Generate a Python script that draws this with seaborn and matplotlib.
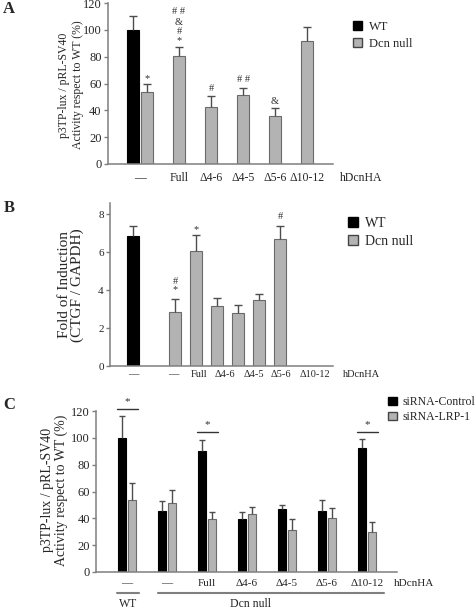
import numpy as np
import pandas as pd
import matplotlib
matplotlib.use("Agg")
import matplotlib.pyplot as plt
import seaborn as sns
from matplotlib.patches import Patch

# ---- data ----
# Panel A: p3TP-lux / pRL-SV40 reporter activity (% of WT)
a_groups = ["WT", "Dcn null", "Dcn null", "Dcn null", "Dcn null", "Dcn null", "Dcn null"]
a_values = [100, 53.8, 80.3, 42.5, 51.7, 36.0, 91.6]
a_err_top = [110.4, 59.8, 87.5, 50.8, 56.3, 42.0, 102.0]
a_labels = ["\u2014", "Full", "\u03944-6", "\u03944-5", "\u03945-6", "\u039410-12"]
a_marks = [(1, "*", 64), (2, "*", 92), (2, "#", 99), (2, "&", 105.5), (2, "# #", 113.8),
           (3, "#", 56.5), (4, "# #", 62.7), (5, "&", 46.5)]

# Panel B: CTGF / GAPDH fold of induction
b_groups = ["WT", "Dcn null", "Dcn null", "Dcn null", "Dcn null", "Dcn null", "Dcn null"]
b_values = [6.85, 2.82, 6.03, 3.17, 2.77, 3.47, 6.70]
b_err_top = [7.38, 3.52, 6.87, 3.56, 3.21, 3.77, 7.38]
b_labels = ["\u2014", "\u2014", "Full", "\u03944-6", "\u03944-5", "\u03945-6", "\u039410-12"]
b_marks = [(1, "*", 4.0), (1, "#", 4.45), (2, "*", 7.2), (6, "#", 7.88)]

# Panel C: siRNA-Control vs siRNA-LRP-1
c_conds = ["WT", "null", "Full", "d4-6", "d4-5", "d5-6", "d10-12"]
c_labels = ["\u2014", "\u2014", "Full", "\u03944-6", "\u03944-5", "\u03945-6", "\u039410-12"]
c_ctrl = [100, 45.1, 90.0, 39.4, 47.0, 45.6, 92.5]
c_ctrl_top = [116.3, 52.8, 98.2, 44.4, 50.0, 53.3, 98.9]
c_lrp = [53.8, 51.3, 39.4, 43.1, 31.0, 40.2, 29.5]
c_lrp_top = [66.2, 61.2, 44.4, 48.8, 39.4, 47.6, 37.2]
c_sig = [0, 2, 6]

GRAY = "#b3b3b3"
EDGE = "#6b6b6b"
ERR = "#4d4d4d"
SPINE = "#7f7f7f"

sns.set_style("ticks")
plt.rcParams["font.family"] = ["Liberation Serif", "DejaVu Serif"]

W, H = 477, 611
fig = plt.figure(figsize=(W / 100, H / 100), dpi=100)


def px_axes(l, t, r, b):
    return fig.add_axes([l / W, 1 - b / H, (r - l) / W, (b - t) / H])


def style_axis(ax, labelsize):
    for s in ["top", "right"]:
        ax.spines[s].set_visible(False)
    for s in ["left", "bottom"]:
        ax.spines[s].set_color(SPINE)
        ax.spines[s].set_linewidth(1.1)
    ax.tick_params(axis="y", length=3, width=1, color=SPINE, labelsize=labelsize, pad=1.5)
    ax.tick_params(axis="x", length=0, pad=6)
    ax.set_xlabel("")
    ax.set_ylabel("")


def fix_edges(ax):
    for p in ax.patches:
        fc = p.get_facecolor()
        p.set_edgecolor("black" if fc[0] < 0.2 else EDGE)
        p.set_linewidth(0.8)


def draw_err(ax, xs, vals, tops, half):
    xs = np.asarray(xs, float)
    ax.vlines(xs, vals, tops, color=ERR, lw=1)
    ax.hlines(tops, xs - half, xs + half, color=ERR, lw=1)


def legend(labels, x, y, fs, spacing):
    handles = [Patch(facecolor="black", edgecolor="black"),
               Patch(facecolor=GRAY, edgecolor="#444444")]
    fig.legend(handles, labels, loc="upper left", bbox_to_anchor=(x / W, 1 - y / H),
               frameon=False, fontsize=fs, handlelength=0.75, handleheight=0.75,
               handletextpad=0.5, labelspacing=spacing, borderpad=0, borderaxespad=0)


# ---- Panel A ----
a_pos = [0, 0.44, 1.44, 2.44, 3.44, 4.44, 5.44]
a_tick = [0.22, 1.44, 2.44, 3.44, 4.44, 5.44]
axA = px_axes(108, 3, 333, 164)
dfA = pd.DataFrame({"pos": a_pos, "value": a_values, "group": a_groups})
sns.barplot(data=dfA, x="pos", y="value", hue="group", native_scale=True, dodge=False,
            width=0.375 / 0.44, palette={"WT": "black", "Dcn null": GRAY},
            errorbar=None, legend=False, ax=axA)
fix_edges(axA)
draw_err(axA, a_pos, a_values, a_err_top, 0.13)
axA.set_xlim(-0.78, 6.25)
axA.set_ylim(0, 120)
axA.set_yticks(range(0, 121, 20))
axA.set_xticks(a_tick, a_labels, fontsize=8.5)
style_axis(axA, 9)
axA.annotate("hDcnHA", xy=(7.12, 0), xycoords=("data", "axes fraction"), xytext=(0, -6),
             textcoords="offset points", ha="center", va="top", fontsize=8.5, annotation_clip=False)
for i, t, y in a_marks:
    axA.text(a_pos[i], y, t, ha="center", va="center", fontsize=7.5, color="#333333")
fig.text(71 / W, 1 - 85 / H, "p3TP-lux / pRL-SV40\nActivity respect to WT (%)", rotation=90,
         ha="center", va="center", fontsize=8.5, linespacing=1.15)
fig.text(3 / W, 1 - 9 / H, "A", fontsize=12, fontweight="bold", va="center")
legend(["WT", "Dcn null"], 353, 21, 9, 0.4)

# ---- Panel B ----
b_pos = [0, 2, 3, 4, 5, 6, 7]
b_tick = [0, 1.9, 3.14, 4.38, 5.76, 7.05, 8.67]
axB = px_axes(110, 203, 333, 366)
dfB = pd.DataFrame({"pos": b_pos, "value": b_values, "group": b_groups})
sns.barplot(data=dfB, x="pos", y="value", hue="group", native_scale=True, dodge=False,
            width=0.57, palette={"WT": "black", "Dcn null": GRAY},
            errorbar=None, legend=False, ax=axB)
fix_edges(axB)
draw_err(axB, b_pos, b_values, b_err_top, 0.17)
axB.set_xlim(-1.095, 9.52)
axB.set_ylim(0, 8.58)
axB.set_yticks(range(0, 9, 2))
axB.set_xticks(b_tick, b_labels, fontsize=7.5)
style_axis(axB, 8)
axB.tick_params(axis="x", pad=3)
axB.annotate("hDcnHA", xy=(10.86, 0), xycoords=("data", "axes fraction"), xytext=(0, -3),
             textcoords="offset points", ha="center", va="top", fontsize=7.5, annotation_clip=False)
for i, t, y in b_marks:
    axB.text(b_pos[i], y, t, ha="center", va="center", fontsize=7.5, color="#333333")
fig.text(71 / W, 1 - 285 / H, "Fold of Induction\n(CTGF / GAPDH)", rotation=90,
         ha="center", va="center", fontsize=11, linespacing=0.95)
fig.text(4 / W, 1 - 208 / H, "B", fontsize=12, fontweight="bold", va="center")
legend(["WT", "Dcn null"], 348, 217, 10, 0.35)

# ---- Panel C ----
axC = px_axes(96, 411, 397, 572)
dfC = pd.DataFrame({
    "cond": c_conds * 2,
    "value": c_ctrl + c_lrp,
    "sirna": ["siRNA-Control"] * len(c_conds) + ["siRNA-LRP-1"] * len(c_conds),
})
sns.barplot(data=dfC, x="cond", y="value", hue="sirna", order=c_conds,
            palette={"siRNA-Control": "black", "siRNA-LRP-1": GRAY},
            width=0.5, gap=0.25, errorbar=None, legend=False, ax=axC)
fix_edges(axC)
xc = np.arange(len(c_conds))
draw_err(axC, xc - 0.125, c_ctrl, c_ctrl_top, 0.08)
draw_err(axC, xc + 0.125, c_lrp, c_lrp_top, 0.08)
axC.set_xlim(-0.775, 6.75)
axC.set_ylim(0, 120)
axC.set_yticks(range(0, 121, 20))
axC.set_xticks(xc, c_labels, fontsize=8)
style_axis(axC, 9)
axC.tick_params(axis="x", pad=5)
axC.annotate("hDcnHA", xy=(7.18, 0), xycoords=("data", "axes fraction"), xytext=(0, -5),
             textcoords="offset points", ha="center", va="top", fontsize=8, annotation_clip=False)
for i in c_sig:
    y = 121.5 if i == 0 else 104
    axC.plot([i - 0.26, i + 0.28], [y, y], color="#333333", lw=1, clip_on=False)
    axC.text(i + 0.01, y + 2.5, "*", ha="center", va="bottom", fontsize=8, color="#333333",
             clip_on=False)
trC = axC.get_xaxis_transform()
axC.plot([-0.25, 0.3], [-0.13, -0.13], color=SPINE, lw=1.5, transform=trC, clip_on=False)
axC.plot([0.775, 6.43], [-0.13, -0.13], color=SPINE, lw=1.5, transform=trC, clip_on=False)
axC.text(0.03, -0.2, "WT", transform=trC, ha="center", va="center", fontsize=8.5)
axC.text(3.1, -0.2, "Dcn null", transform=trC, ha="center", va="center", fontsize=8.5)
fig.text(55 / W, 1 - 490 / H, "p3TP-lux / pRL-SV40\nActivity respect to WT (%)", rotation=90,
         ha="center", va="center", fontsize=10, linespacing=1.05)
fig.text(3 / W, 1 - 405 / H, "C", fontsize=12, fontweight="bold", va="center")
legend(["siRNA-Control", "siRNA-LRP-1"], 388, 396, 8.5, 0.25)

fig.savefig("out.png", dpi=100)
